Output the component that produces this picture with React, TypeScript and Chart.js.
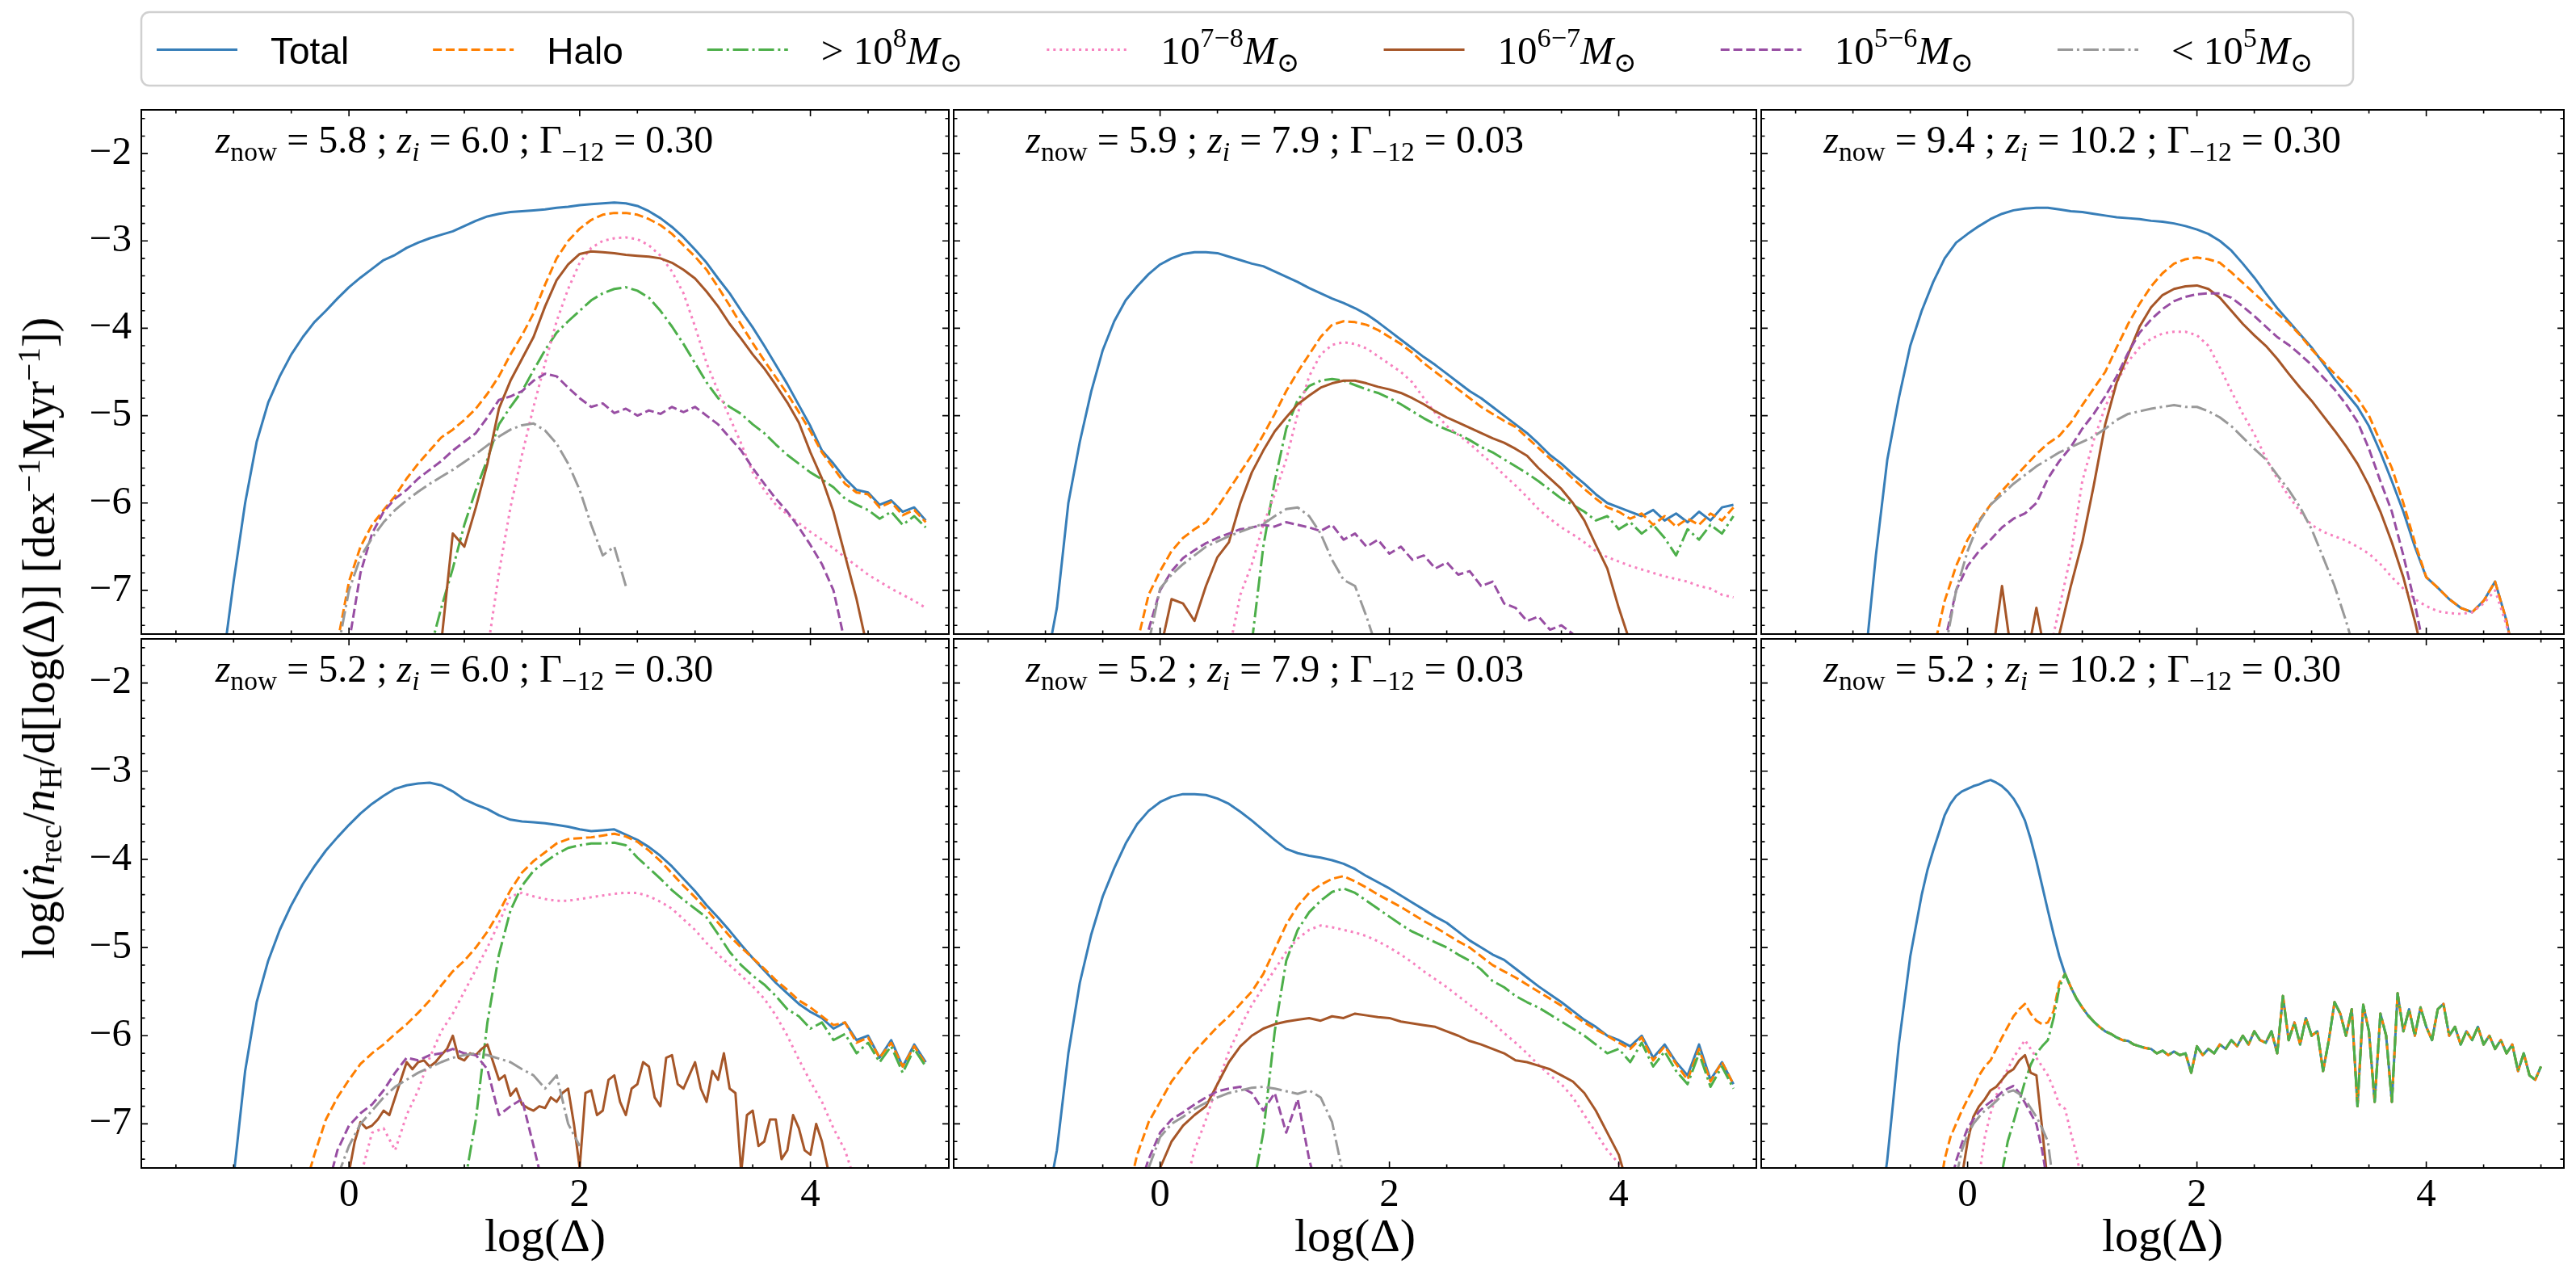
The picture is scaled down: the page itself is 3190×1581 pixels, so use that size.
import { useEffect, useRef } from 'react'
import { Chart, registerables } from 'chart.js'

Chart.register(...registerables)

type Series = { from: number; step?: number; y: number[] }

// ---------------- data ----------------

const seriesLabels = [
  'Total',
  'Halo',
  '> 10^{8}*M*_{⊙}',
  '10^{7−8}*M*_{⊙}',
  '10^{6−7}*M*_{⊙}',
  '10^{5−6}*M*_{⊙}',
  '< 10^{5}*M*_{⊙}',
]

const zNow = ['5.8', '5.9', '9.4', '5.2', '5.2', '5.2']
const zIon = ['6.0', '7.9', '10.2', '6.0', '7.9', '10.2']
const gamma12 = ['0.30', '0.03', '0.30', '0.30', '0.03', '0.30']

const xMajor = [0, 2, 4]
const yMajor = [-7, -6, -5, -4, -3, -2]

// z_now = 5.8 ; z_i = 6.0
const p1Total: Series = { from: -1.1, y: [-7.9, -6.9, -6.0, -5.3, -4.85, -4.55, -4.3, -4.1, -3.93, -3.8, -3.66, -3.53, -3.42, -3.32, -3.22, -3.16, -3.08, -3.02, -2.97, -2.93, -2.89, -2.83, -2.77, -2.72, -2.69, -2.67, -2.66, -2.65, -2.64, -2.62, -2.61, -2.59, -2.58, -2.57, -2.56, -2.57, -2.6, -2.66, -2.74, -2.84, -2.96, -3.1, -3.25, -3.43, -3.6, -3.8, -3.99, -4.2, -4.42, -4.64, -4.88, -5.12, -5.4, -5.55, -5.72, -5.85, -5.88, -6.02, -5.97, -6.1, -6.05, -6.2] }
const p1Halo: Series = { from: -0.1, y: [-7.6, -6.9, -6.5, -6.25, -6.08, -5.92, -5.72, -5.55, -5.4, -5.25, -5.16, -5.05, -4.92, -4.75, -4.55, -4.3, -4.08, -3.83, -3.5, -3.2, -3.0, -2.86, -2.76, -2.7, -2.68, -2.68, -2.7, -2.75, -2.82, -2.92, -3.05, -3.18, -3.33, -3.53, -3.74, -3.96, -4.17, -4.37, -4.56, -4.75, -4.96, -5.18, -5.42, -5.6, -5.78, -5.88, -5.9, -6.05, -5.99, -6.14, -6.08, -6.22] }
const p1Gt8: Series = { from: 0.7, y: [-7.7, -7.2, -6.75, -6.25, -5.85, -5.5, -5.1, -4.9, -4.72, -4.48, -4.25, -4.05, -3.92, -3.8, -3.68, -3.6, -3.55, -3.53, -3.57, -3.65, -3.8, -3.98, -4.18, -4.4, -4.62, -4.8, -4.9, -4.98, -5.1, -5.2, -5.33, -5.45, -5.55, -5.65, -5.73, -5.82, -5.95, -6.02, -6.08, -6.18, -6.1, -6.25, -6.15, -6.28] }
const p1M78: Series = { from: 1.2, y: [-7.7, -6.8, -6.05, -5.45, -4.9, -4.4, -3.92, -3.55, -3.25, -3.08, -3.0, -2.97, -2.96, -2.98, -3.05, -3.17, -3.35, -3.6, -3.98, -4.4, -4.72, -5.02, -5.32, -5.65, -5.85, -6.02, -6.13, -6.23, -6.33, -6.42, -6.52, -6.62, -6.72, -6.82, -6.9, -6.98, -7.05, -7.12, -7.2] }
const p1M67: Series = { from: 0.8, y: [-7.6, -6.35, -6.5, -6.05, -5.55, -4.92, -4.6, -4.35, -4.1, -3.75, -3.45, -3.27, -3.15, -3.12, -3.13, -3.14, -3.16, -3.17, -3.18, -3.2, -3.25, -3.33, -3.43, -3.58, -3.75, -3.95, -4.12, -4.3, -4.46, -4.65, -4.85, -5.08, -5.42, -5.72, -6.1, -6.6, -7.1, -7.7] }
const p1M56: Series = { from: 0.0, y: [-7.6, -6.8, -6.35, -6.1, -5.95, -5.85, -5.72, -5.62, -5.52, -5.4, -5.3, -5.2, -5.02, -4.82, -4.78, -4.72, -4.6, -4.52, -4.55, -4.68, -4.8, -4.9, -4.86, -4.97, -4.92, -5.0, -4.94, -4.98, -4.9, -4.96, -4.9, -5.0, -5.1, -5.25, -5.4, -5.6, -5.78, -5.95, -6.1, -6.28, -6.48, -6.7, -7.0, -7.6] }
const p1Lt5: Series = { from: -0.1, y: [-7.7, -7.0, -6.62, -6.4, -6.22, -6.08, -5.97, -5.87, -5.78, -5.7, -5.62, -5.53, -5.44, -5.34, -5.24, -5.16, -5.11, -5.09, -5.17, -5.32, -5.55, -5.85, -6.25, -6.6, -6.5, -6.95] }

// z_now = 5.9 ; z_i = 7.9
const p2Total: Series = { from: -1.0, y: [-7.9, -7.2, -6.0, -5.3, -4.72, -4.25, -3.92, -3.68, -3.52, -3.38, -3.27, -3.2, -3.15, -3.13, -3.13, -3.14, -3.18, -3.22, -3.26, -3.29, -3.35, -3.41, -3.47, -3.54, -3.6, -3.66, -3.71, -3.77, -3.84, -3.93, -4.03, -4.13, -4.23, -4.33, -4.42, -4.52, -4.62, -4.72, -4.8, -4.9, -5.0, -5.1, -5.2, -5.32, -5.45, -5.55, -5.67, -5.78, -5.9, -6.0, -6.05, -6.1, -6.15, -6.08, -6.2, -6.12, -6.22, -6.1, -6.2, -6.05, -6.02] }
const p2Halo: Series = { from: -0.2, y: [-7.6, -7.05, -6.78, -6.55, -6.4, -6.3, -6.22, -6.05, -5.85, -5.65, -5.45, -5.22, -4.98, -4.72, -4.5, -4.3, -4.1, -3.96, -3.92, -3.93, -3.96, -4.02, -4.1, -4.18, -4.28, -4.4, -4.5, -4.6, -4.7, -4.8, -4.9, -4.98, -5.06, -5.13, -5.25, -5.37, -5.49, -5.6, -5.72, -5.84, -5.95, -6.05, -6.1, -6.18, -6.12, -6.25, -6.15, -6.27, -6.18, -6.25, -6.12, -6.2, -6.05] }
const p2Gt8: Series = { from: 0.8, y: [-7.6, -6.5, -5.75, -5.15, -4.82, -4.66, -4.6, -4.58, -4.6, -4.65, -4.7, -4.74, -4.8, -4.87, -4.95, -5.03, -5.1, -5.16, -5.21, -5.28, -5.36, -5.42, -5.5, -5.58, -5.66, -5.75, -5.85, -5.95, -6.02, -6.1, -6.2, -6.15, -6.3, -6.22, -6.35, -6.25, -6.4, -6.6, -6.3, -6.42, -6.25, -6.35, -6.15] }
const p2M78: Series = { from: 0.6, y: [-7.7, -7.05, -6.7, -6.25, -5.9, -5.5, -4.98, -4.55, -4.3, -4.19, -4.16, -4.18, -4.23, -4.32, -4.41, -4.5, -4.62, -4.8, -4.97, -5.12, -5.22, -5.32, -5.44, -5.55, -5.68, -5.8, -5.93, -6.07, -6.18, -6.28, -6.36, -6.45, -6.55, -6.62, -6.67, -6.72, -6.76, -6.8, -6.84, -6.87, -6.9, -6.95, -6.98, -7.05, -7.08] }
const p2M67: Series = { from: 0.0, y: [-7.7, -7.1, -7.15, -7.35, -6.95, -6.62, -6.45, -6.0, -5.65, -5.4, -5.18, -5.02, -4.87, -4.77, -4.68, -4.63, -4.6, -4.6, -4.63, -4.67, -4.7, -4.74, -4.8, -4.87, -4.95, -5.02, -5.08, -5.14, -5.2, -5.26, -5.31, -5.38, -5.46, -5.6, -5.72, -5.84, -6.0, -6.2, -6.48, -6.75, -7.2, -7.6] }
const p2M56: Series = { from: -0.1, y: [-7.45, -7.0, -6.78, -6.63, -6.54, -6.46, -6.4, -6.35, -6.3, -6.28, -6.25, -6.27, -6.22, -6.25, -6.28, -6.32, -6.25, -6.42, -6.35, -6.5, -6.42, -6.58, -6.5, -6.65, -6.6, -6.75, -6.68, -6.82, -6.78, -6.95, -6.9, -7.15, -7.2, -7.35, -7.3, -7.45, -7.4, -7.5, -7.7] }
const p2Lt5: Series = { from: -0.1, y: [-7.6, -6.98, -6.82, -6.7, -6.6, -6.5, -6.44, -6.38, -6.33, -6.28, -6.24, -6.15, -6.07, -6.05, -6.15, -6.35, -6.65, -6.88, -6.95, -7.3, -7.7] }

// z_now = 9.4 ; z_i = 10.2 (no haloes above 1e8 Msun)
const p3Total: Series = { from: -0.9, y: [-7.9, -6.6, -5.5, -4.8, -4.2, -3.8, -3.47, -3.2, -3.02, -2.92, -2.83, -2.75, -2.69, -2.65, -2.63, -2.62, -2.62, -2.64, -2.66, -2.67, -2.69, -2.71, -2.73, -2.74, -2.75, -2.77, -2.78, -2.8, -2.83, -2.87, -2.92, -3.0, -3.11, -3.26, -3.42, -3.6, -3.77, -3.92, -4.07, -4.22, -4.4, -4.58, -4.74, -4.9, -5.12, -5.42, -5.75, -6.1, -6.5, -6.85, -6.97, -7.1, -7.2, -7.25, -7.12, -6.9, -7.35, -8.0] }
const p3Halo: Series = { from: -0.3, y: [-7.7, -7.12, -6.72, -6.42, -6.2, -6.02, -5.86, -5.72, -5.58, -5.44, -5.32, -5.23, -5.08, -4.88, -4.69, -4.5, -4.22, -3.95, -3.72, -3.52, -3.37, -3.26, -3.21, -3.19, -3.21, -3.25, -3.36, -3.48, -3.6, -3.72, -3.83, -3.94, -4.08, -4.24, -4.38, -4.52, -4.65, -4.8, -5.0, -5.3, -5.6, -6.0, -6.45, -6.85, -6.97, -7.1, -7.2, -7.25, -7.12, -6.9, -7.35, -8.0] }
const p3Gt8: Series | null = null
const p3M78: Series = { from: 0.7, y: [-7.8, -7.2, -6.6, -5.75, -5.28, -4.9, -4.62, -4.38, -4.22, -4.12, -4.06, -4.04, -4.04, -4.08, -4.2, -4.45, -4.72, -4.98, -5.21, -5.48, -5.72, -5.92, -6.1, -6.25, -6.33, -6.38, -6.43, -6.5, -6.58, -6.7, -6.85, -6.98, -7.1, -7.18, -7.24, -7.26, -7.27, -7.25, -7.15, -7.0, -7.4, -8.0] }
const p3M67: Series = { from: 0.2, y: [-7.9, -6.95, -7.9, -7.9, -7.2, -7.9, -7.5, -6.95, -6.45, -5.8, -5.1, -4.62, -4.3, -3.98, -3.76, -3.62, -3.55, -3.52, -3.51, -3.55, -3.65, -3.8, -3.95, -4.08, -4.2, -4.35, -4.52, -4.68, -4.83, -5.0, -5.17, -5.35, -5.55, -5.8, -6.1, -6.45, -6.85, -7.35, -7.9] }
const p3M56: Series = { from: -0.2, y: [-7.6, -7.0, -6.72, -6.55, -6.42, -6.28, -6.18, -6.12, -6.0, -5.72, -5.52, -5.36, -5.15, -4.98, -4.78, -4.55, -4.28, -4.05, -3.9, -3.78, -3.69, -3.64, -3.61, -3.6, -3.6, -3.65, -3.75, -3.86, -3.98, -4.1, -4.19, -4.3, -4.42, -4.56, -4.7, -4.87, -5.07, -5.38, -5.75, -6.1, -6.6, -7.15, -7.8] }
const p3Lt5: Series = { from: -0.2, y: [-7.7, -7.0, -6.55, -6.22, -6.02, -5.9, -5.78, -5.68, -5.58, -5.5, -5.42, -5.36, -5.3, -5.24, -5.15, -5.05, -4.98, -4.95, -4.92, -4.9, -4.88, -4.9, -4.9, -4.95, -5.02, -5.12, -5.25, -5.38, -5.5, -5.68, -5.85, -6.05, -6.3, -6.62, -6.95, -7.35, -7.8] }

// z_now = 5.2 ; z_i = 6.0
const p4Total: Series = { from: -1.0, y: [-7.6, -6.4, -5.62, -5.15, -4.8, -4.52, -4.28, -4.08, -3.9, -3.75, -3.61, -3.48, -3.37, -3.28, -3.2, -3.16, -3.14, -3.13, -3.16, -3.23, -3.32, -3.38, -3.43, -3.5, -3.55, -3.57, -3.58, -3.59, -3.61, -3.63, -3.66, -3.68, -3.67, -3.66, -3.72, -3.78, -3.86, -3.96, -4.08, -4.22, -4.36, -4.52, -4.66, -4.81, -4.97, -5.12, -5.26, -5.4, -5.52, -5.64, -5.73, -5.8, -5.92, -5.85, -6.05, -6.0, -6.25, -6.05, -6.35, -6.1, -6.3] }
const p4Halo: Series = { from: -0.4, y: [-7.8, -7.35, -6.95, -6.7, -6.5, -6.32, -6.2, -6.1, -5.98, -5.87, -5.74, -5.6, -5.43, -5.27, -5.15, -5.0, -4.82, -4.6, -4.35, -4.15, -4.02, -3.92, -3.82, -3.77, -3.76, -3.75, -3.73, -3.71, -3.74, -3.8, -3.9, -4.02, -4.16, -4.3, -4.43, -4.57, -4.72, -4.87, -5.0, -5.12, -5.24, -5.37, -5.48, -5.6, -5.68, -5.78, -5.88, -5.85, -6.08, -6.02, -6.25, -6.08, -6.35, -6.12, -6.32] }
const p4Gt8: Series = { from: 1.0, y: [-7.7, -6.95, -5.85, -5.08, -4.58, -4.3, -4.13, -4.03, -3.94, -3.87, -3.84, -3.82, -3.82, -3.81, -3.84, -3.98, -4.1, -4.22, -4.35, -4.46, -4.56, -4.66, -4.85, -5.05, -5.2, -5.32, -5.42, -5.55, -5.7, -5.78, -5.92, -5.85, -6.05, -5.98, -6.2, -6.08, -6.3, -6.12, -6.42, -6.15, -6.35] }
const p4M78: Series = { from: 0.1, y: [-7.6, -7.1, -7.05, -7.3, -6.9, -6.62, -6.25, -5.95, -5.75, -5.5, -5.25, -5.0, -4.72, -4.42, -4.38, -4.42, -4.45, -4.47, -4.47, -4.45, -4.43, -4.41, -4.39, -4.38, -4.38, -4.42, -4.48, -4.56, -4.68, -4.8, -4.95, -5.08, -5.2, -5.32, -5.44, -5.58, -5.77, -6.0, -6.27, -6.52, -6.75, -7.05, -7.3, -7.7] }
const p4M67: Series = { from: 0.0, step: 0.05, y: [-7.55, -7.2, -6.98, -7.05, -7.02, -6.95, -6.85, -6.9, -6.7, -6.5, -6.3, -6.38, -6.3, -6.28, -6.35, -6.3, -6.22, -6.15, -6.0, -6.25, -6.28, -6.2, -6.22, -6.15, -6.1, -6.3, -6.5, -6.45, -6.68, -6.6, -6.78, -6.82, -6.85, -6.8, -6.82, -6.7, -6.75, -6.65, -6.6, -7.0, -7.5, -6.65, -6.62, -6.9, -6.85, -6.5, -6.45, -6.75, -6.9, -6.6, -6.55, -6.3, -6.35, -6.7, -6.8, -6.25, -6.22, -6.55, -6.6, -6.45, -6.3, -6.6, -6.75, -6.4, -6.5, -6.2, -6.6, -6.65, -7.55, -6.9, -6.85, -7.25, -7.2, -6.95, -6.95, -7.4, -7.3, -6.9, -7.05, -7.3, -7.35, -7.0, -7.2, -7.5, -7.6] }
const p4M56: Series = { from: -0.2, y: [-7.8, -7.3, -7.02, -6.88, -6.78, -6.62, -6.42, -6.25, -6.28, -6.22, -6.2, -6.15, -6.2, -6.22, -6.38, -6.9, -6.8, -6.72, -7.25, -7.8] }
const p4Lt5: Series = { from: -0.1, y: [-7.6, -7.25, -7.0, -6.85, -6.7, -6.58, -6.5, -6.42, -6.36, -6.3, -6.25, -6.22, -6.2, -6.22, -6.26, -6.3, -6.38, -6.45, -6.6, -6.45, -7.0, -7.25] }

// z_now = 5.2 ; z_i = 7.9
const p5Total: Series = { from: -1.0, y: [-8.0, -7.3, -6.2, -5.4, -4.85, -4.42, -4.1, -3.82, -3.6, -3.45, -3.35, -3.29, -3.26, -3.26, -3.27, -3.31, -3.37, -3.46, -3.56, -3.67, -3.78, -3.88, -3.93, -3.96, -3.98, -4.01, -4.05, -4.11, -4.19, -4.26, -4.33, -4.41, -4.49, -4.57, -4.65, -4.72, -4.82, -4.92, -5.0, -5.08, -5.14, -5.24, -5.34, -5.44, -5.53, -5.62, -5.72, -5.82, -5.9, -6.0, -6.05, -6.12, -6.0, -6.25, -6.1, -6.3, -6.45, -6.1, -6.5, -6.3, -6.55] }
const p5Halo: Series = { from: -0.3, y: [-7.9, -7.35, -6.98, -6.75, -6.52, -6.35, -6.18, -6.04, -5.9, -5.78, -5.64, -5.5, -5.3, -5.02, -4.74, -4.53, -4.38, -4.29, -4.22, -4.19, -4.25, -4.32, -4.4, -4.47, -4.54, -4.62, -4.7, -4.77, -4.85, -4.93, -5.0, -5.1, -5.2, -5.27, -5.34, -5.42, -5.5, -5.58, -5.66, -5.76, -5.85, -5.93, -6.0, -6.08, -6.15, -6.02, -6.28, -6.12, -6.32, -6.5, -6.15, -6.52, -6.3, -6.55] }
const p5Gt8: Series = { from: 0.8, y: [-7.8, -7.1, -5.95, -5.15, -4.8, -4.6, -4.47, -4.37, -4.33, -4.38, -4.47, -4.56, -4.65, -4.74, -4.82, -4.88, -4.94, -5.0, -5.08, -5.15, -5.25, -5.38, -5.45, -5.55, -5.62, -5.68, -5.76, -5.84, -5.92, -6.0, -6.1, -6.2, -6.15, -6.3, -6.08, -6.35, -6.18, -6.4, -6.55, -6.2, -6.58, -6.35, -6.6] }
const p5M78: Series = { from: 0.2, y: [-7.8, -7.3, -6.95, -6.55, -6.18, -5.9, -5.65, -5.45, -5.25, -5.05, -4.9, -4.8, -4.75, -4.77, -4.8, -4.83, -4.87, -4.93, -5.0, -5.08, -5.17, -5.27, -5.36, -5.45, -5.55, -5.65, -5.75, -5.85, -5.97, -6.08, -6.2, -6.33, -6.45, -6.55, -6.7, -6.9, -7.1, -7.3, -7.45, -7.8] }
const p5M67: Series = { from: 0.0, y: [-7.5, -7.2, -7.02, -6.9, -6.8, -6.55, -6.3, -6.12, -6.0, -5.92, -5.87, -5.84, -5.82, -5.8, -5.83, -5.78, -5.8, -5.75, -5.77, -5.79, -5.8, -5.84, -5.86, -5.88, -5.9, -5.95, -6.0, -6.06, -6.1, -6.15, -6.2, -6.28, -6.3, -6.34, -6.38, -6.45, -6.52, -6.65, -6.85, -7.1, -7.35, -7.8] }
const p5M56: Series = { from: -0.2, y: [-7.8, -7.4, -7.1, -6.95, -6.87, -6.78, -6.7, -6.63, -6.6, -6.58, -6.65, -6.85, -6.65, -7.1, -6.72, -7.4, -7.9] }
const p5Lt5: Series = { from: -0.1, y: [-7.5, -7.15, -7.0, -6.92, -6.83, -6.76, -6.7, -6.65, -6.62, -6.59, -6.58, -6.6, -6.63, -6.66, -6.62, -6.7, -6.98, -7.6] }

// z_now = 5.2 ; z_i = 10.2 (Total, Halo and >1e8 share the dense tail)
const p6TotalHead = [-7.9, -7.4, -6.76, -6.1, -5.6, -5.1, -4.75, -4.4, -4.12, -3.9, -3.7, -3.5, -3.37, -3.28, -3.23, -3.2, -3.17, -3.15, -3.12, -3.1, -3.13, -3.17, -3.23, -3.31, -3.42, -3.56, -3.77, -4.02, -4.3, -4.58, -4.85, -5.1]
const p6HaloHead = [-7.8, -7.4, -7.15, -7.0, -6.85, -6.72, -6.6, -6.45, -6.35, -6.28, -6.15, -6.02, -5.9, -5.78, -5.7, -5.64, -5.75, -5.83, -5.87, -5.85, -5.72, -5.4]
const p6Gt8Head = [-7.55, -7.2, -6.98, -6.75, -6.52, -6.33, -6.2, -6.12, -6.05, -5.8, -5.45]
const p6Tail = [
  -5.3, -5.45, -5.58, -5.68, -5.77, -5.84, -5.9, -5.95, -5.98, -6.02,
  -6.05, -6.06, -6.1, -6.12, -6.14, -6.15, -6.2, -6.17, -6.22, -6.18,
  -6.22, -6.2, -6.42, -6.12, -6.22, -6.15, -6.2, -6.1, -6.15, -6.05,
  -6.12, -6.0, -6.1, -5.95, -6.05, -6.08, -5.95, -6.2, -5.55, -6.05,
  -5.85, -6.1, -5.8, -6.0, -5.95, -6.4, -6.05, -5.62, -5.75, -6.0,
  -5.7, -6.8, -5.65, -5.95, -6.75, -5.75, -6.0, -6.75, -5.52, -5.95,
  -5.7, -6.0, -5.68, -5.9, -6.05, -5.7, -5.64, -6.0, -5.9, -6.1,
  -5.95, -6.05, -5.9, -6.1, -6.0, -6.15, -6.05, -6.2, -6.1, -6.4,
  -6.2, -6.45, -6.5, -6.35,
]
const p6Total: Series = { from: -0.75, step: 0.05, y: [...p6TotalHead, ...p6Tail] }
const p6Halo: Series = { from: -0.25, step: 0.05, y: [...p6HaloHead, ...p6Tail] }
const p6Gt8: Series = { from: 0.3, step: 0.05, y: [...p6Gt8Head, ...p6Tail] }
const p6M78: Series = { from: 0.1, step: 0.05, y: [-7.6, -7.15, -6.88, -6.68, -6.5, -6.38, -6.25, -6.15, -6.05, -6.15, -6.25, -6.35, -6.45, -6.6, -6.78, -6.83, -7.1, -7.35, -7.7] }
const p6M67: Series = { from: -0.05, step: 0.05, y: [-7.6, -7.2, -6.92, -6.8, -6.72, -6.62, -6.58, -6.5, -6.42, -6.38, -6.28, -6.22, -6.42, -6.45, -7.05, -7.7] }
const p6M56: Series = { from: -0.15, step: 0.05, y: [-7.7, -7.42, -7.22, -7.05, -6.95, -6.86, -6.8, -6.75, -6.7, -6.64, -6.6, -6.57, -6.65, -6.76, -6.88, -7.0, -7.3, -7.7] }
const p6Lt5: Series = { from: -0.1, step: 0.05, y: [-7.6, -7.3, -7.12, -7.0, -6.92, -6.85, -6.8, -6.74, -6.68, -6.64, -6.62, -6.66, -6.72, -6.82, -6.92, -7.05, -7.2, -7.7] }

const panelSeries: (Series | null)[][] = [
  [p1Total, p1Halo, p1Gt8, p1M78, p1M67, p1M56, p1Lt5],
  [p2Total, p2Halo, p2Gt8, p2M78, p2M67, p2M56, p2Lt5],
  [p3Total, p3Halo, p3Gt8, p3M78, p3M67, p3M56, p3Lt5],
  [p4Total, p4Halo, p4Gt8, p4M78, p4M67, p4M56, p4Lt5],
  [p5Total, p5Halo, p5Gt8, p5M78, p5M67, p5M56, p5Lt5],
  [p6Total, p6Halo, p6Gt8, p6M78, p6M67, p6M56, p6Lt5],
]

// ---------------- style / layout ----------------

const SERIF = "'Liberation Serif', 'DejaVu Serif', serif"
const SANS = "'Liberation Sans', 'DejaVu Sans', sans-serif"

const colors = ['#377eb8', '#ff7f00', '#4daf4a', '#f781bf', '#a65628', '#984ea3', '#999999']
const dashes = [[], [11, 4.8], [19.2, 4.8, 3, 4.8], [3, 4.95], [], [11, 4.8], [19.2, 4.8, 3, 4.8]]

const FIG_W = 3190
const FIG_H = 1581
const PANEL_L = 175
const PANEL_T = 136
const PANEL_W = 1000
const PANEL_H = 655
const X_MIN = -1.8
const X_MAX = 5.2
const Y_MIN = -7.5
const Y_MAX = -1.5

Chart.defaults.font.family = SERIF
Chart.defaults.color = '#000'

const minus = (v: number) => (v < 0 ? '\u2212' + Math.abs(v) : String(v))

// tiny TeX-ish renderer: *italic*, ^{sup}, _{sub}
type Run = { t: string; it: boolean; lvl: number }
function parseTex(s: string): Run[] {
  const runs: Run[] = []
  let it = false
  let lvl = 0
  let buf = ''
  const flush = () => {
    if (buf) runs.push({ t: buf, it, lvl })
    buf = ''
  }
  for (let i = 0; i < s.length; i++) {
    const c = s[i]
    if (c === '*') {
      flush()
      it = !it
    } else if ((c === '^' || c === '_') && s[i + 1] === '{') {
      flush()
      lvl = c === '^' ? 1 : -1
      i++
    } else if (c === '}' && lvl !== 0) {
      flush()
      lvl = 0
    } else buf += c
  }
  flush()
  return runs
}

function drawTex(ctx: CanvasRenderingContext2D, s: string, x: number, y: number, size: number, family: string, align = 'left') {
  const runs = parseTex(s)
  const font = (r: Run) => `${r.it ? 'italic ' : ''}${r.lvl ? size * 0.7 : size}px ${family}`
  let w = 0
  const ws = runs.map((r) => {
    ctx.font = font(r)
    const m = ctx.measureText(r.t).width
    w += m
    return m
  })
  let cx = align === 'center' ? x - w / 2 : x
  ctx.textAlign = 'left'
  ctx.textBaseline = 'alphabetic'
  ctx.fillStyle = '#000'
  runs.forEach((r, i) => {
    ctx.font = font(r)
    const dy = r.lvl > 0 ? -0.42 * size : r.lvl < 0 ? 0.2 * size : 0
    ctx.fillText(r.t, cx, y + dy)
    cx += ws[i]
  })
  return w
}

const toPoints = (s: Series | null) =>
  s ? s.y.map((v, i) => ({ x: Math.round((s.from + i * (s.step ?? 0.1)) * 1000) / 1000, y: v })) : []

// inward ticks on all four sides + frame + panel annotation
const framePlugin = {
  id: 'frame',
  afterDraw(chart: any) {
    const { ctx, chartArea } = chart
    const { left, right, top, bottom } = chartArea
    const xs = chart.scales.x
    const ys = chart.scales.y
    ctx.save()
    ctx.strokeStyle = '#000'
    ctx.lineWidth = 1.6
    ctx.beginPath()
    for (let k = -3; k <= 10; k++) {
      const v = k * 0.5
      if (v <= X_MIN || v >= X_MAX) continue
      const len = xMajor.includes(v) ? 8 : 4.5
      const px = xs.getPixelForValue(v)
      ctx.moveTo(px, bottom)
      ctx.lineTo(px, bottom - len)
      ctx.moveTo(px, top)
      ctx.lineTo(px, top + len)
    }
    for (let k = -37; k <= -8; k++) {
      const v = Math.round(k * 2) / 10
      const len = yMajor.includes(v) ? 8 : 4.5
      const py = ys.getPixelForValue(v)
      ctx.moveTo(left, py)
      ctx.lineTo(left + len, py)
      ctx.moveTo(right, py)
      ctx.lineTo(right - len, py)
    }
    ctx.stroke()
    ctx.lineWidth = 2
    ctx.strokeRect(left, top, right - left, bottom - top)
    const i = chart.options.plugins.frame.index
    const text = `*z*_{now} = ${zNow[i]} ; *z*_{*i*} = ${zIon[i]} ; Γ_{−12} = ${gamma12[i]}`
    drawTex(ctx, text, left + 0.4 * (right - left), top + 53, 48, SERIF, 'center')
    ctx.restore()
  },
}

function Panel({ index }: { index: number }) {
  const ref = useRef<HTMLCanvasElement>(null)
  const col = index % 3
  const row = Math.floor(index / 3)
  const L = PANEL_L + col * PANEL_W
  const T = PANEL_T + row * PANEL_H
  const R = L + PANEL_W
  const B = T + PANEL_H
  const cLeft = col === 0 ? 0 : L - 6
  const cTop = T - 6
  const cRight = R + 6
  const cBottom = row === 1 ? FIG_H : B + 6

  useEffect(() => {
    if (!ref.current) return
    const chart = new Chart(ref.current, {
      type: 'line',
      data: {
        datasets: panelSeries[index].map((s, i) => ({
          label: seriesLabels[i],
          data: toPoints(s),
          borderColor: colors[i],
          backgroundColor: colors[i],
          borderDash: dashes[i],
          borderWidth: 3,
          pointRadius: 0,
          tension: 0,
          fill: false,
          order: 7 - i,
        })),
      },
      options: {
        responsive: false,
        animation: false,
        devicePixelRatio: 1,
        events: [],
        layout: {
          autoPadding: false,
          padding: { left: col === 0 ? 0 : 6, right: 6, top: 6, bottom: row === 1 ? 0 : 6 },
        },
        elements: { line: { borderJoinStyle: 'round', borderCapStyle: 'butt' } },
        plugins: {
          legend: { display: false },
          tooltip: { enabled: false },
          frame: { index },
        },
        scales: {
          x: {
            type: 'linear',
            min: X_MIN,
            max: X_MAX,
            display: row === 1,
            grid: { display: false, drawTicks: false },
            border: { display: false },
            afterBuildTicks: (s: any) => {
              s.ticks = xMajor.map((value) => ({ value }))
            },
            afterFit: (s: any) => {
              s.height = cBottom - B
              s.paddingLeft = 0
              s.paddingRight = 0
            },
            ticks: {
              autoSkip: false,
              maxRotation: 0,
              padding: 5,
              font: { family: SERIF, size: 49 },
              color: '#000',
              callback: (v: any) => minus(Number(v)),
            },
            title: {
              display: true,
              text: 'log(Δ)',
              font: { family: SERIF, size: 58 },
              color: '#000',
              padding: { top: 0, bottom: 12 },
            },
          },
          y: {
            type: 'linear',
            min: Y_MIN,
            max: Y_MAX,
            display: col === 0,
            grid: { display: false, drawTicks: false },
            border: { display: false },
            afterBuildTicks: (s: any) => {
              s.ticks = yMajor.map((value) => ({ value }))
            },
            afterFit: (s: any) => {
              s.width = L - cLeft
              s.paddingTop = 0
              s.paddingBottom = 0
            },
            ticks: {
              autoSkip: false,
              padding: 12,
              font: { family: SERIF, size: 49 },
              color: '#000',
              callback: (v: any) => minus(Number(v)),
            },
          },
        },
      } as any,
      plugins: [framePlugin],
    })
    return () => chart.destroy()
  }, [index])

  return (
    <canvas
      ref={ref}
      width={cRight - cLeft}
      height={cBottom - cTop}
      style={{ position: 'absolute', left: cLeft, top: cTop }}
    />
  )
}

const legendPlugin = {
  id: 'boxLegend',
  afterDraw(chart: any) {
    const ctx = chart.ctx
    ctx.save()
    ctx.fillStyle = '#fff'
    ctx.strokeStyle = '#d0d0d0'
    ctx.lineWidth = 2.5
    ctx.beginPath()
    ctx.roundRect(6, 6, 2739, 91, 10)
    ctx.fill()
    ctx.stroke()
    let x = 25
    chart.data.datasets.forEach((ds: any) => {
      ctx.strokeStyle = ds.borderColor
      ctx.lineWidth = 3
      ctx.setLineDash(ds.borderDash)
      ctx.beginPath()
      ctx.moveTo(x, 52.5)
      ctx.lineTo(x + 100, 52.5)
      ctx.stroke()
      ctx.setLineDash([])
      const isMath = ds.label.includes('^')
      const w = drawTex(ctx, ds.label, x + 141, 70, isMath ? 49 : 46, isMath ? SERIF : SANS)
      x += 141 + w + 104
    })
    ctx.restore()
  },
}

function Legend() {
  const ref = useRef<HTMLCanvasElement>(null)
  useEffect(() => {
    if (!ref.current) return
    const chart = new Chart(ref.current, {
      type: 'line',
      data: {
        datasets: seriesLabels.map((label, i) => ({
          label,
          data: [],
          borderColor: colors[i],
          borderDash: dashes[i],
          borderWidth: 3,
        })),
      },
      options: {
        responsive: false,
        animation: false,
        devicePixelRatio: 1,
        events: [],
        scales: { x: { display: false }, y: { display: false } },
        plugins: { legend: { display: false }, tooltip: { enabled: false } },
      } as any,
      plugins: [legendPlugin],
    })
    return () => chart.destroy()
  }, [])
  return <canvas ref={ref} width={2751} height={103} style={{ position: 'absolute', left: 169, top: 9 }} />
}

const subStyle = { fontSize: '0.7em', verticalAlign: '-0.22em', lineHeight: 0 }
const supStyle = { fontSize: '0.7em', verticalAlign: '0.45em', lineHeight: 0 }

export default function App() {
  return (
    <div
      style={{
        position: 'absolute',
        left: 0,
        top: 0,
        width: FIG_W,
        height: FIG_H,
        background: '#fff',
        overflow: 'hidden',
      }}
    >
      <Legend />
      {panelSeries.map((_, i) => (
        <Panel key={i} index={i} />
      ))}
      <div
        style={{
          position: 'absolute',
          left: 48,
          top: 790,
          transform: 'translate(-50%, -50%) rotate(-90deg)',
          whiteSpace: 'nowrap',
          fontFamily: SERIF,
          fontSize: 56,
          lineHeight: 1,
          color: '#000',
        }}
      >
        log(<i>ṅ</i>
        <sub style={subStyle}>rec</sub>/<i>n</i>
        <sub style={subStyle}>H</sub>/d[log(Δ)] [dex<sup style={supStyle}>−1</sup>Myr<sup style={supStyle}>−1</sup>])
      </div>
    </div>
  )
}
